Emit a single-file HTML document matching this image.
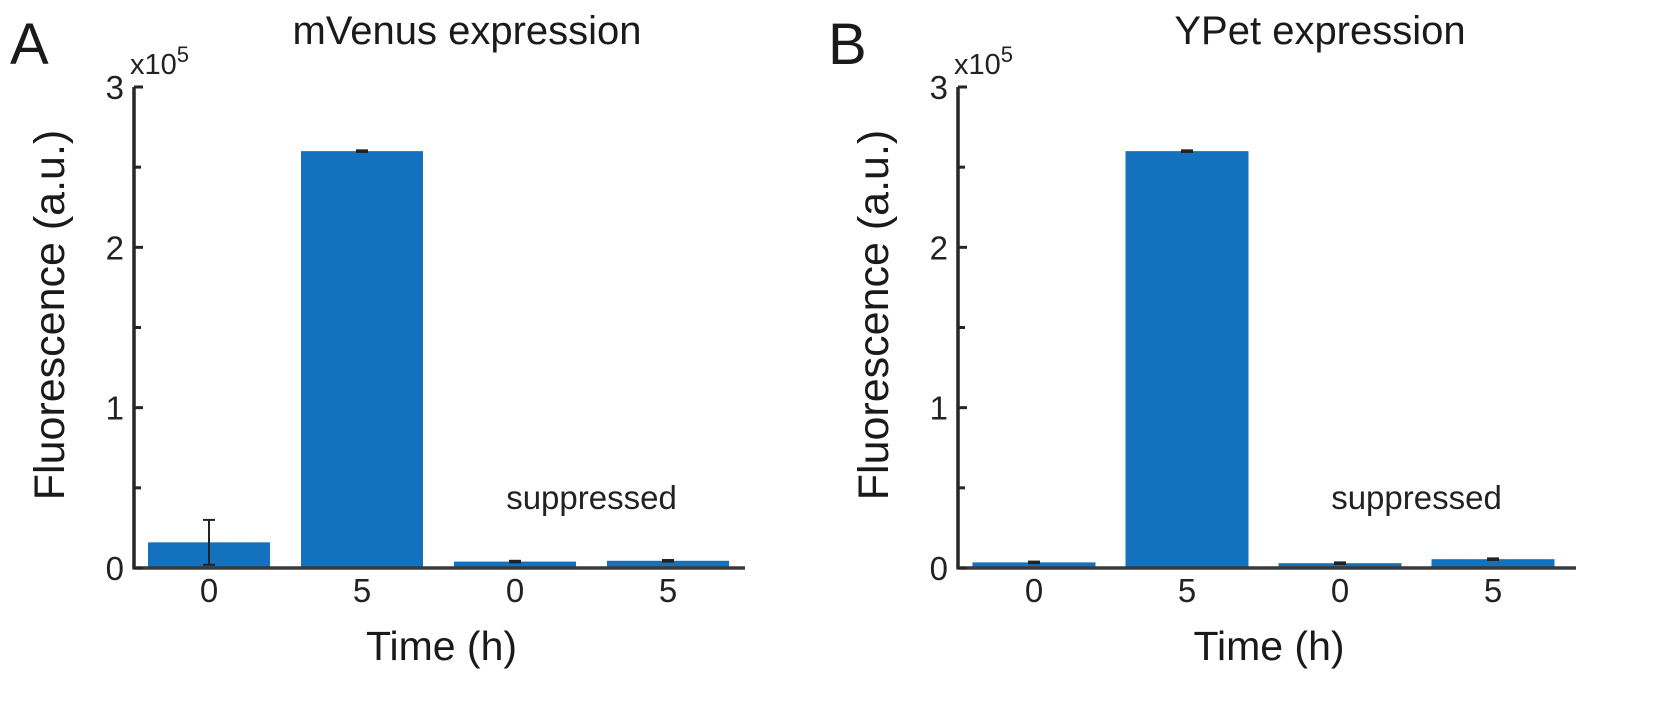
<!DOCTYPE html>
<html><head><meta charset="utf-8"><style>
html,body{margin:0;padding:0;background:#fff;}
svg{display:block;font-family:"Liberation Sans",sans-serif;}
</style></head><body>
<svg id="fig" width="1674" height="709" viewBox="0 0 1674 709"></svg>
<script>
const categories = ["0","5","0","5"];
const valuesA = [0.16, 2.60, 0.04, 0.045];
const errorsA = [0.14, 0.005, 0.005, 0.005];
const valuesB = [0.035, 2.60, 0.03, 0.055];
const errorsB = [0.005, 0.005, 0.005, 0.005];
const yTicks = [0, 1, 2, 3];
const yMinorTicks = [0.5, 1.5, 2.5];
const yMax = 3;

const NS = "http://www.w3.org/2000/svg";
const svg = document.getElementById("fig");
function mk(tag, attrs, parent){
  const e = document.createElementNS(NS, tag);
  for (const k in attrs) e.setAttribute(k, attrs[k]);
  (parent||svg).appendChild(e);
  return e;
}
function panel(cfg){
  const g = mk("g", {});
  
  
  const y0 = 568, y3 = 87;
  const ys = v => y0 - (v / yMax) * (y0 - y3);
  const xs = i => cfg.ax + cfg.off + i * cfg.step;
  categories.forEach((c, i) => {
    const v = cfg.values[i];
    const b = mk("rect", {x: xs(i) - cfg.bw/2, y: ys(v), width: cfg.bw, height: y0 - ys(v), fill: "#1371BD"}, g);
    
    
    const e = cfg.errors[i];
    const eb = mk("g", {stroke: "#222", "stroke-width": 2}, g);
    
    
    mk("line", {x1: xs(i), x2: xs(i), y1: ys(v + e), y2: ys(Math.max(0, v - e))}, eb);
    mk("line", {x1: xs(i) - 6, x2: xs(i) + 6, y1: ys(v + e), y2: ys(v + e)}, eb);
    mk("line", {x1: xs(i) - 6, x2: xs(i) + 6, y1: ys(Math.max(0, v - e)), y2: ys(Math.max(0, v - e))}, eb);
    const t = mk("text", {x: xs(i), y: 602, "font-size": 33, "text-anchor": "middle", fill: "#222"}, g);
    t.textContent = c;
    
    
  });
  const ya = mk("line", {x1: cfg.ax, x2: cfg.ax, y1: y3, y2: y0 + 1.5, stroke: "#262626", "stroke-width": 3.5}, g);
  
  
  const xa = mk("line", {x1: cfg.ax, x2: cfg.axEnd, y1: y0, y2: y0, stroke: "#3a3a3a", "stroke-width": 3.5}, g);
  
  
  yTicks.forEach(v => {
    mk("line", {x1: cfg.ax, x2: cfg.ax + 9, y1: ys(v), y2: ys(v), stroke: "#262626", "stroke-width": 3}, g);
    const t = mk("text", {x: cfg.ax - 10, y: ys(v) + 12, "font-size": 33, "text-anchor": "end", fill: "#222"}, g);
    t.textContent = v;
    
    
  });
  yMinorTicks.forEach(v => {
    mk("line", {x1: cfg.ax, x2: cfg.ax + 7, y1: ys(v), y2: ys(v), stroke: "#262626", "stroke-width": 3}, g);
  });
  const ex = mk("text", {x: cfg.ax - 4, y: 74, "font-size": 29, fill: "#222"}, g);
  ex.innerHTML = 'x10<tspan dy="-12" font-size="22">5</tspan>';
  
  
  const yl = mk("text", {x: 0, y: 0, "font-size": 43, "text-anchor": "middle", fill: "#1a1a1a", transform: `translate(${cfg.ax - 70},315) rotate(-90)`}, g);
  yl.textContent = "Fluorescence (a.u.)";
  
  
  const xl = mk("text", {x: (cfg.ax + cfg.axEnd)/2 + 2, y: 660, "font-size": 41, "text-anchor": "middle", fill: "#1a1a1a"}, g);
  xl.textContent = "Time (h)";
  
  
  const ti = mk("text", {x: cfg.titleX, y: 44, "font-size": 40, "text-anchor": "middle", fill: "#1a1a1a"}, g);
  ti.textContent = cfg.title;
  
  
  const su = mk("text", {x: (xs(2) + xs(3))/2, y: 509, "font-size": 33, "text-anchor": "middle", fill: "#222"}, g);
  su.textContent = "suppressed";
  
  
  const pl = mk("text", {x: cfg.letterX, y: 64, "font-size": 58, fill: "#1a1a1a"}, g);
  pl.textContent = cfg.letter;
  
  
}
panel({name: "panel-a-mvenus", ax: 134, axEnd: 745, off: 75, step: 153, bw: 122, values: valuesA, errors: errorsA, title: "mVenus expression", titleX: 467, letter: "A", letterX: 10});
panel({name: "panel-b-ypet", ax: 958, axEnd: 1576, off: 76, step: 153, bw: 123, values: valuesB, errors: errorsB, title: "YPet expression", titleX: 1320, letter: "B", letterX: 828});
</script>
</body></html>
